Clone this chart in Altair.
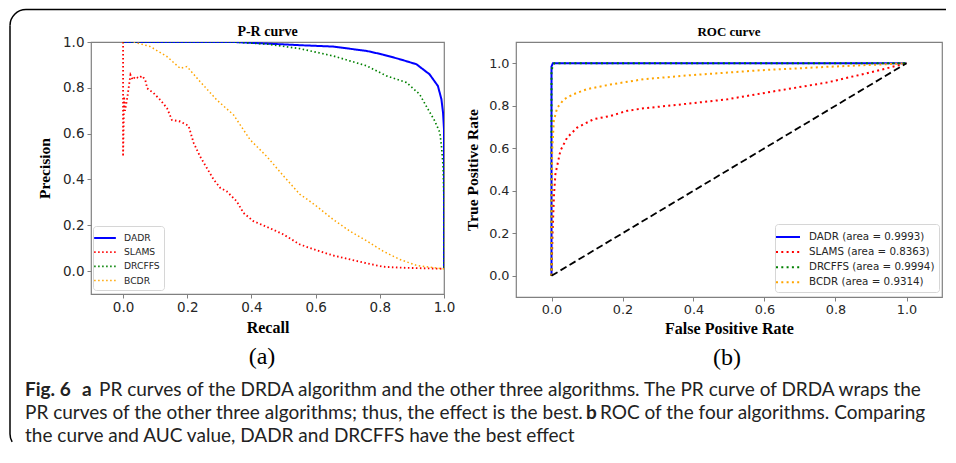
import altair as alt
import pandas as pd

# ---------------- data ----------------
algos = ["DADR", "SLAMS", "DRCFFS", "BCDR"]
colors = ["#0000ff", "#ff0000", "#008000", "#ffa500"]
auc = ["0.9993", "0.8363", "0.9994", "0.9314"]

# P-R curves
pr_dadr_r = [0.0, 0.2, 0.344, 0.45, 0.551, 0.655, 0.759, 0.81, 0.862, 0.914, 0.955, 0.981, 0.992, 0.997, 1.0, 1.0]
pr_dadr_p = [1.0, 1.0, 1.0, 0.993, 0.986, 0.98, 0.961, 0.945, 0.925, 0.903, 0.859, 0.808, 0.75, 0.692, 0.62, 0.01]

pr_slams_r = [0.0, 0.0, 0.002, 0.003, 0.006, 0.012, 0.023, 0.03, 0.038, 0.049, 0.059, 0.069, 0.075, 0.095, 0.116,
              0.137, 0.152, 0.178, 0.204, 0.22, 0.24, 0.261, 0.282, 0.303, 0.323, 0.354, 0.375, 0.406, 0.448, 0.5,
              0.551, 0.603, 0.655, 0.707, 0.759, 0.81, 0.862, 1.0]
pr_slams_p = [1.0, 0.5, 0.675, 0.762, 0.7, 0.747, 0.856, 0.835, 0.849, 0.842, 0.852, 0.835, 0.798, 0.777, 0.747,
              0.711, 0.66, 0.653, 0.634, 0.559, 0.5, 0.45, 0.4, 0.363, 0.348, 0.305, 0.254, 0.218, 0.193, 0.16,
              0.116, 0.091, 0.068, 0.051, 0.034, 0.019, 0.015, 0.01]

pr_drcffs_r = [0.0, 0.2, 0.344, 0.448, 0.551, 0.655, 0.759, 0.821, 0.883, 0.924, 0.95, 0.971, 0.987, 0.992, 0.997, 1.0, 1.0]
pr_drcffs_p = [1.0, 1.0, 1.0, 0.991, 0.971, 0.939, 0.896, 0.852, 0.823, 0.772, 0.707, 0.656, 0.605, 0.547, 0.46, 0.3, 0.01]

pr_bcdr_r = [0.033, 0.085, 0.137, 0.178, 0.199, 0.24, 0.292, 0.344, 0.396, 0.448, 0.5, 0.551, 0.577, 0.603,
             0.655, 0.707, 0.76, 0.81, 0.862, 0.914, 0.966, 1.0]
pr_bcdr_p = [1.0, 0.98, 0.936, 0.885, 0.893, 0.827, 0.747, 0.682, 0.573, 0.5, 0.415, 0.335, 0.31, 0.283,
             0.225, 0.174, 0.131, 0.087, 0.051, 0.025, 0.015, 0.01]

# ROC curves
roc_dadr_f = [0.0, 0.0, 0.004, 1.0]
roc_dadr_t = [0.0, 0.985, 1.0, 1.0]
roc_slams_f = [0.0, 0.003, 0.007, 0.011, 0.025, 0.044, 0.072, 0.119, 0.166, 0.213, 0.26, 0.353, 0.494, 0.634, 0.775, 0.916, 1.0]
roc_slams_t = [0.0, 0.2, 0.38, 0.478, 0.588, 0.65, 0.697, 0.737, 0.752, 0.776, 0.788, 0.804, 0.83, 0.87, 0.909, 0.964, 1.0]
roc_drcffs_f = [0.0, 0.0, 0.008, 1.0]
roc_drcffs_t = [0.0, 0.97, 1.0, 1.0]
roc_bcdr_f = [0.0, 0.0, 0.002, 0.0066, 0.016, 0.035, 0.063, 0.1, 0.166, 0.26, 0.4, 0.588, 0.775, 1.0]
roc_bcdr_t = [0.0, 0.4, 0.59, 0.73, 0.79, 0.83, 0.855, 0.878, 0.9, 0.925, 0.945, 0.967, 0.983, 1.0]
diag_x = [0.0, 1.0]
diag_y = [0.0, 1.0]

ticks = [0.0, 0.2, 0.4, 0.6, 0.8, 1.0]

titles = ["P-R curve", "ROC curve"]
sublabels = ["(a)", "(b)"]
caption_line1 = ["Fig. 6", "a", "PR curves of the DRDA algorithm and the other three algorithms. The PR curve of DRDA wraps the"]
caption_line2 = ["PR curves of the other three algorithms; thus, the effect is the best.", "b",
                 "ROC of the four algorithms. Comparing"]
caption_line3 = ["the curve and AUC value, DADR and DRCFFS have the best effect"]

# ---------------- tables ----------------
def table(name, xs, ys):
    return pd.DataFrame({"series": name, "x": xs, "y": ys, "idx": list(range(len(xs)))})

pr_df = pd.concat([
    table("DADR", pr_dadr_r, pr_dadr_p),
    table("SLAMS", pr_slams_r, pr_slams_p),
    table("DRCFFS", pr_drcffs_r, pr_drcffs_p),
    table("BCDR", pr_bcdr_r, pr_bcdr_p),
], ignore_index=True)

roc_labels = [f"{a} (area = {v})" for a, v in zip(algos, auc)]
roc_df = pd.concat([
    table(roc_labels[0], roc_dadr_f, roc_dadr_t),
    table(roc_labels[1], roc_slams_f, roc_slams_t),
    table(roc_labels[2], roc_drcffs_f, roc_drcffs_t),
    table(roc_labels[3], roc_bcdr_f, roc_bcdr_t),
], ignore_index=True)
diag_df = pd.DataFrame({"x": diag_x, "y": diag_y})
one = pd.DataFrame({"k": [0]})

W1, H1 = 353, 252
W2, H2 = 426, 255

TICK_COL = "#808080"
LAB_COL = "#262626"
LONG_STROKE = "M-1.55,0H1.55"


def axis(title, size, lpad, tpad):
    return alt.Axis(title=title, values=ticks, format=".1f", labelFontSize=size, labelPadding=lpad,
                    titlePadding=tpad, labelFlush=False, labelOverlap=False)


def text(s, x, y, size, font, weight="normal", color="#222222", align="left", baseline="alphabetic"):
    return alt.Chart(one).mark_text(text=s, align=align, baseline=baseline, font=font, fontSize=size,
                                    fontWeight=weight, color=color).encode(x=alt.value(x), y=alt.value(y))


# ---------------- left panel: P-R ----------------
leg1 = alt.Legend(title=None, orient="none", legendX=2, legendY=184, symbolType=LONG_STROKE, symbolSize=196,
                  symbolStrokeWidth=1.5, symbolFillColor="transparent", labelFont="DejaVu Sans",
                  labelFontSize=9.2, labelColor=LAB_COL, rowPadding=0.2, padding=4, fillColor="white",
                  strokeColor="#d6d6d6", cornerRadius=3, labelOffset=11)

pr_lines = alt.Chart(pr_df).mark_line(clip=True).encode(
    x=alt.X("x:Q", scale=alt.Scale(domain=[-0.1, 1.0], nice=False, zero=False),
            axis=axis("Recall", 13.5, 2, 6)),
    y=alt.Y("y:Q", scale=alt.Scale(domain=[-0.1, 1.0], nice=False, zero=False),
            axis=axis("Precision", 13.5, 3, 10)),
    color=alt.Color("series:N", scale=alt.Scale(domain=algos, range=colors), legend=leg1),
    strokeDash=alt.StrokeDash("series:N", scale=alt.Scale(domain=algos, range=[[1, 0], [1.5, 2.5], [1.5, 2.5], [1.5, 2.5]]),
                              legend=leg1),
    strokeWidth=alt.StrokeWidth("series:N", scale=alt.Scale(domain=algos, range=[2, 1.5, 1.5, 1.5]), legend=None),
    order="idx:Q",
)

CAP_FONT = "Lato"
CAP_SIZE = 19.0
caption = [
    text(caption_line1[0], -66, 354, CAP_SIZE, CAP_FONT, "bold"),
    text(caption_line1[1], -9, 354, CAP_SIZE, CAP_FONT, "bold"),
    text(caption_line1[2], 8, 354, CAP_SIZE, CAP_FONT),
    text(caption_line2[0], -66, 377, CAP_SIZE, CAP_FONT),
    text(caption_line2[1], 495, 377, CAP_SIZE, CAP_FONT, "bold"),
    text(caption_line2[2], 509, 377, CAP_SIZE, CAP_FONT),
    text(caption_line3[0], -66, 400, CAP_SIZE, CAP_FONT),
]

title_a = text(titles[0], W1 / 2, -6, 14, "Liberation Serif", "bold", "black", align="center")
label_a = text(sublabels[0], 171, 315, 24, "Liberation Serif", color="black", align="center", baseline="middle")

# rounded figure frame (decoration)
frame = [
    alt.Chart(one).mark_rule(color="black", strokeWidth=1.5).encode(
        x=alt.value(-65), x2=alt.value(855), y=alt.value(-32.5)),
    alt.Chart(one).mark_rule(color="black", strokeWidth=1.5).encode(
        x=alt.value(-81), y=alt.value(-16.5), y2=alt.value(392)),
    alt.Chart(one).mark_arc(color="black").encode(
        x=alt.value(-65), y=alt.value(-16.5), theta=alt.value(4.7124), theta2=alt.value(6.2832),
        radius=alt.value(16.75), radius2=alt.value(15.25)),
    alt.Chart(one).mark_arc(color="black").encode(
        x=alt.value(-65), y=alt.value(392), theta=alt.value(4.189), theta2=alt.value(4.7124),
        radius=alt.value(16.75), radius2=alt.value(15.25)),
]

left = alt.layer(pr_lines, title_a, label_a, *caption, *frame).properties(width=W1, height=H1)

# ---------------- right panel: ROC ----------------
leg2 = alt.Legend(title=None, orient="none", legendX=259, legendY=182, symbolType=LONG_STROKE, symbolSize=240,
                  symbolStrokeWidth=2, symbolFillColor="transparent", labelFont="DejaVu Sans",
                  labelFontSize=10.3, labelColor=LAB_COL, rowPadding=0.1, padding=4, fillColor="white",
                  strokeColor="#d6d6d6", cornerRadius=3, labelOffset=12)

roc_x = alt.Scale(domain=[-0.1, 1.1], nice=False, zero=False)
roc_y = alt.Scale(domain=[-0.1, 1.1], nice=False, zero=False)

roc_lines = alt.Chart(roc_df).mark_line(clip=True).encode(
    x=alt.X("x:Q", scale=roc_x, axis=axis("False Positive Rate", 12.8, 2, 5)),
    y=alt.Y("y:Q", scale=roc_y, axis=axis("True Positive Rate", 12.8, 3, 8)),
    color=alt.Color("series:N", scale=alt.Scale(domain=roc_labels, range=colors), legend=leg2),
    strokeDash=alt.StrokeDash("series:N", scale=alt.Scale(domain=roc_labels, range=[[1, 0], [2, 3.3], [2, 3.3], [2, 3.3]]),
                              legend=leg2),
    strokeWidth=alt.StrokeWidth("series:N", scale=alt.Scale(domain=roc_labels, range=[2, 2, 2, 2]), legend=None),
    order="idx:Q",
)

diag = alt.Chart(diag_df).mark_line(color="black", strokeDash=[7, 3.5], strokeWidth=1.8).encode(
    x="x:Q", y="y:Q")

title_b = text(titles[1], W2 / 2, -6.5, 13, "Liberation Serif", "bold", "black", align="center")
label_b = text(sublabels[1], 211, 316, 24, "Liberation Serif", color="black", align="center", baseline="middle")

right = alt.layer(roc_lines, diag, title_b, label_b).properties(width=W2, height=H2)

chart = alt.hconcat(left, right, spacing=72, bounds="flush").resolve_scale(
    color="independent", strokeDash="independent", strokeWidth="independent", x="independent", y="independent"
).resolve_legend(color="independent", strokeDash="independent").properties(
    padding={"left": 0, "top": 0, "right": 0, "bottom": 0}
).configure_view(stroke=TICK_COL, strokeWidth=1.2).configure_axis(
    domain=False, grid=False, tickColor=TICK_COL, tickWidth=1, tickSize=4, labelColor=LAB_COL,
    labelFont="DejaVu Sans", titleFont="Liberation Serif", titleFontWeight="bold", titleColor="black",
    titleFontSize=15.5,
).configure_axisX(titleFontSize=16)

chart.save("out.html", embed_options={"renderer": "svg", "actions": False})
